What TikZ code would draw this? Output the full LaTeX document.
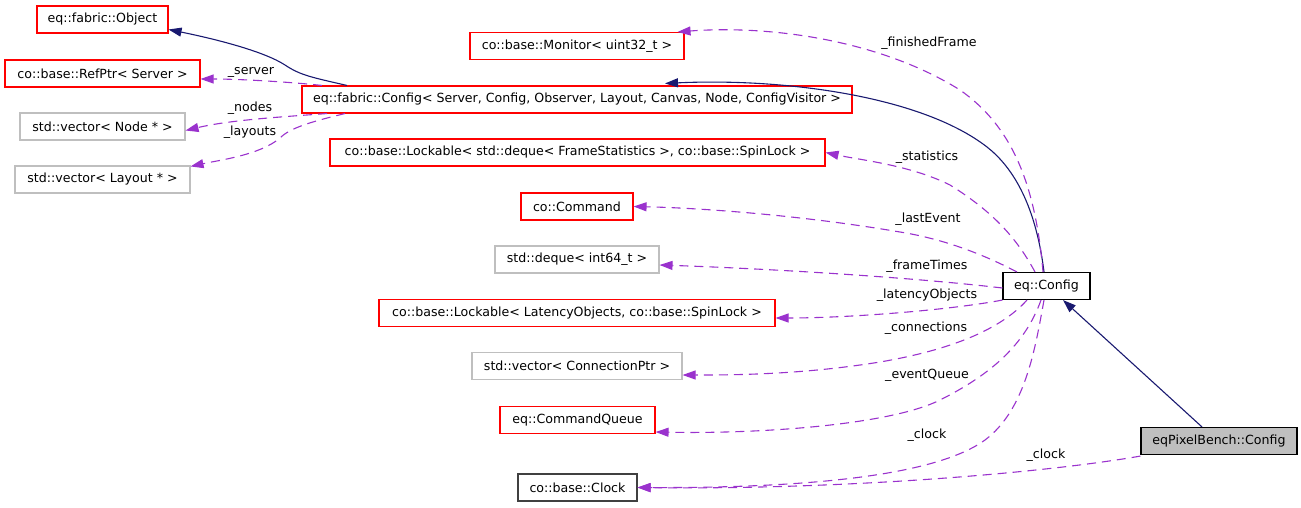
\documentclass[tikz,border=0pt]{standalone}
\usepackage{fontspec}
\setmainfont{DejaVu Sans}
\usetikzlibrary{arrows.meta}
\definecolor{navy}{HTML}{191970}
\definecolor{orchid}{HTML}{9A32CD}
\definecolor{lgray}{HTML}{BFBFBF}
\definecolor{dgray}{HTML}{404040}
\tikzset{
  box/.style={draw=red, line width=1.1pt, inner sep=0pt, minimum height=27pt, font=\fontsize{12.6}{14}\selectfont, text=black},
  graybox/.style={box, draw=lgray},
  blackbox/.style={box, draw=black},
  darkbox/.style={box, draw=dgray},
  inherit/.style={draw=navy, line width=1.1pt, -{Triangle[length=13pt,width=9pt]}},
  uses/.style={draw=orchid, line width=1.1pt, dash pattern=on 9pt off 6pt, -{Triangle[length=13pt,width=9pt]}},
  lbl/.style={font=\fontsize{12.6}{14}\selectfont, inner sep=0pt}
}
\begin{document}
\begin{tikzpicture}[x=1pt,y=-1pt]
\useasboundingbox (0,0) rectangle (1301,508);
% nodes
\node[box, minimum width=131pt] (obj) at (102.5,19.5) {eq::fabric::Object};
\node[box, minimum width=195pt] (refptr) at (102.5,73.5) {co::base::RefPtr< Server >};
\node[graybox, minimum width=165pt] (vnode) at (102.5,126.5) {std::vector< Node * >};
\node[graybox, minimum width=175pt] (vlayout) at (102.5,179.5) {std::vector< Layout * >};
\node[box, minimum width=550pt] (fconfig) at (577,99.5) {eq::fabric::Config< Server, Config, Observer, Layout, Canvas, Node, ConfigVisitor >};
\node[box, minimum width=214pt] (monitor) at (577,46) {co::base::Monitor< uint32\_t >};
\node[box, minimum width=495pt] (lockstat) at (577.5,152.5) {co::base::Lockable< std::deque< FrameStatistics >, co::base::SpinLock >};
\node[box, minimum width=112pt] (command) at (577,206.5) {co::Command};
\node[graybox, minimum width=164pt] (deque) at (577,259.5) {std::deque< int64\_t >};
\node[box, minimum width=396pt] (locklat) at (577,313) {co::base::Lockable< LatencyObjects, co::base::SpinLock >};
\node[graybox, minimum width=210pt] (vconn) at (577,366) {std::vector< ConnectionPtr >};
\node[box, minimum width=155pt] (cq) at (577.5,420) {eq::CommandQueue};
\node[darkbox, minimum width=119pt] (clock) at (577.5,487.5) {co::base::Clock};
\node[blackbox, minimum width=87pt] (econfig) at (1046.5,286) {eq::Config};
\node[blackbox, fill=lgray, minimum width=156pt] (pixel) at (1219,441) {eqPixelBench::Config};
% inheritance
\draw[inherit] ([xshift=-230pt]fconfig.north) .. controls (310,77) and (300,75) .. (285,65) .. controls (265,52) and (220,40) .. ([yshift=-10pt]obj.east);
\draw[inherit] ([xshift=-2.5pt]econfig.north) .. controls (1035,200) and (1010,165) .. (987,147) .. controls (920,95) and (780,78) .. ([xshift=88pt,yshift=2pt]fconfig.north);
\draw[inherit] ([xshift=-17pt]pixel.north) -- ([xshift=16.5pt]econfig.south);
% usage from fabric config
\draw[uses] ([xshift=-255pt]fconfig.north) .. controls (290,82) and (240,79) .. ([yshift=-5.5pt]refptr.east);
\node[lbl] (lserver) at (251,72) {\_server};
\draw[uses] ([xshift=-250pt]fconfig.south) .. controls (280,117) and (230,120) .. ([yshift=-4pt]vnode.east);
\node[lbl] (lnodes) at (250,108) {\_nodes};
\draw[uses] ([xshift=-232pt]fconfig.south) .. controls (310,122) and (290,128) .. (280,138) .. controls (260,155) and (220,160) .. ([yshift=-1pt]vlayout.north east);
\node[lbl] (llayouts) at (250,132) {\_layouts};
% usage from eq::Config
\draw[uses] ([xshift=-3.5pt]econfig.north) .. controls (1035,180) and (1010,125) .. (960,90) .. controls (880,40) and (770,25) .. ([xshift=-7pt]monitor.north east);
\node[lbl] (lff) at (929,43) {\_finishedFrame};
\draw[uses] ([xshift=-11.5pt]econfig.north) .. controls (1015,235) and (990,210) .. (950,185) .. controls (910,165) and (860,160) .. (lockstat.east);
\node[lbl] (lstat) at (927,157) {\_statistics};
\draw[uses] ([xshift=-29.5pt]econfig.north) .. controls (990,258) and (950,240) .. (900,232) .. controls (800,215) and (700,208) .. (command.east);
\node[lbl] (llast) at (928,219) {\_lastEvent};
\draw[uses] ([yshift=-2pt]econfig.west) .. controls (900,276) and (750,268) .. ([yshift=-5.5pt]deque.east);
\node[lbl] (lft) at (927,266) {\_frameTimes};
\draw[uses] (econfig.south west) .. controls (950,310) and (850,318) .. ([yshift=-5pt]locklat.east);
\node[lbl] (llat) at (927,295) {\_latencyObjects};
\draw[uses] ([xshift=-19.5pt]econfig.south) .. controls (1000,330) and (950,350) .. (880,362) .. controls (800,375) and (730,375) .. ([yshift=-9pt]vconn.east);
\node[lbl] (lconn) at (926,328) {\_connections};
\draw[uses] ([xshift=-5.5pt]econfig.south) .. controls (1025,345) and (990,375) .. (940,400) .. controls (890,425) and (760,434) .. ([yshift=-12pt]cq.east);
\node[lbl] (leq) at (927,375) {\_eventQueue};
\draw[uses] ([xshift=-2.5pt]econfig.south) .. controls (1035,350) and (1025,410) .. (985,440) .. controls (930,480) and (780,488) .. (clock.east);
\node[lbl] (lclock1) at (927,435) {\_clock};
\draw[uses] ([yshift=-1pt]pixel.south west) .. controls (1050,472) and (850,490) .. (clock.east);
\node[lbl] (lclock2) at (1046,455) {\_clock};
\end{tikzpicture}
\end{document}
